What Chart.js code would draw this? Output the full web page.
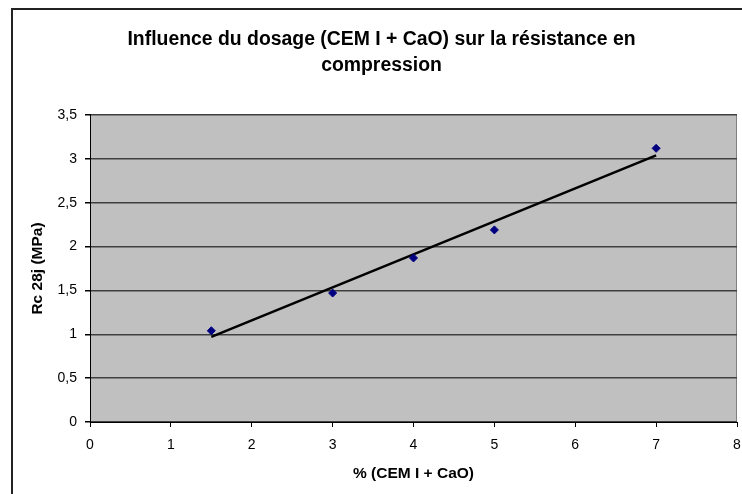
<!DOCTYPE html>
<html>
<head>
<meta charset="utf-8">
<script src="https://cdn.jsdelivr.net/npm/chart.js@4.4.1/dist/chart.umd.min.js"></script>
<style>
  html, body { margin: 0; padding: 0; background: #fff; }
  #wrap { width: 742px; height: 494px; position: relative; }
</style>
</head>
<body>
<div id="wrap"><canvas id="chart" width="742" height="494"></canvas></div>
<script>
// values
const dosage = [1.5, 3, 4, 5, 7];
const rc28 = [1.04, 1.47, 1.87, 2.19, 3.12];
const trendX = [1.5, 7];
const trendY = [0.97, 3.04];
const yTickLabels = ['0', '0,5', '1', '1,5', '2', '2,5', '3', '3,5'];

const FONT = 'Liberation Sans, Arial, sans-serif';

const frame = {
  id: 'frame',
  beforeDraw(chart) {
    const { ctx, chartArea: a } = chart;
    ctx.save();
    ctx.fillStyle = '#fff';
    ctx.fillRect(0, 0, chart.width, chart.height);
    ctx.strokeStyle = '#222';
    ctx.lineWidth = 2;
    ctx.strokeRect(12, 9, 900, 700);
    ctx.fillStyle = '#c0c0c0';
    ctx.fillRect(a.left, a.top, a.right - a.left, a.bottom - a.top);
    ctx.strokeStyle = '#808080';
    ctx.lineWidth = 1;
    ctx.beginPath();
    ctx.moveTo(a.right - 0.5, a.top);
    ctx.lineTo(a.right - 0.5, a.bottom);
    ctx.stroke();
    ctx.restore();
  }
};

new Chart(document.getElementById('chart'), {
  type: 'scatter',
  data: {
    datasets: [
      {
        label: 'Rc 28j',
        data: dosage.map((x, i) => ({ x: x, y: rc28[i] })),
        pointStyle: 'rectRot',
        pointRadius: 4,
        pointBackgroundColor: '#000080',
        pointBorderColor: '#000080',
        order: 1
      },
      {
        label: 'Tendance',
        type: 'line',
        data: trendX.map((x, i) => ({ x: x, y: trendY[i] })),
        borderColor: '#000',
        borderWidth: 2.5,
        pointRadius: 0,
        fill: false,
        order: 2
      }
    ]
  },
  options: {
    responsive: false,
    animation: false,
    layout: { padding: { left: 26, right: 5, top: 0, bottom: 0 } },
    plugins: {
      legend: { display: false },
      tooltip: { enabled: false },
      title: {
        display: true,
        text: ['Influence du dosage (CEM I + CaO) sur la résistance en', 'compression'],
        color: '#000',
        font: { family: FONT, size: 19.4, weight: 'bold', lineHeight: 1.34 },
        padding: { top: 27, bottom: 36 }
      }
    },
    scales: {
      x: {
        type: 'linear',
        min: 0,
        max: 8,
        afterFit(scale) {
          scale.height = 72;
          scale.paddingLeft = 0;
          scale.paddingRight = 0;
        },
        ticks: {
          stepSize: 1,
          color: '#000',
          padding: 10,
          font: { family: FONT, size: 14 }
        },
        grid: {
          drawOnChartArea: false,
          tickLength: 5,
          tickColor: '#000'
        },
        border: { color: '#000', width: 1 },
        title: {
          display: true,
          text: '% (CEM I + CaO)',
          color: '#000',
          font: { family: FONT, size: 15.5, weight: 'bold' },
          padding: { top: 0, bottom: 10.5 }
        }
      },
      y: {
        min: 0,
        max: 3.5,
        afterFit(scale) { scale.width = 64; },
        ticks: {
          stepSize: 0.5,
          color: '#000',
          padding: 8,
          font: { family: FONT, size: 14 },
          callback: (v, i) => yTickLabels[i]
        },
        grid: {
          color: '#404040',
          lineWidth: 1.5,
          tickLength: 5,
          tickColor: '#000'
        },
        border: { color: '#000', width: 1 },
        title: {
          display: true,
          text: 'Rc 28j (MPa)',
          color: '#000',
          font: { family: FONT, size: 15.5, weight: 'bold' },
          padding: { top: 2.7, bottom: 0 }
        }
      }
    }
  },
  plugins: [frame]
});
</script>
</body>
</html>
